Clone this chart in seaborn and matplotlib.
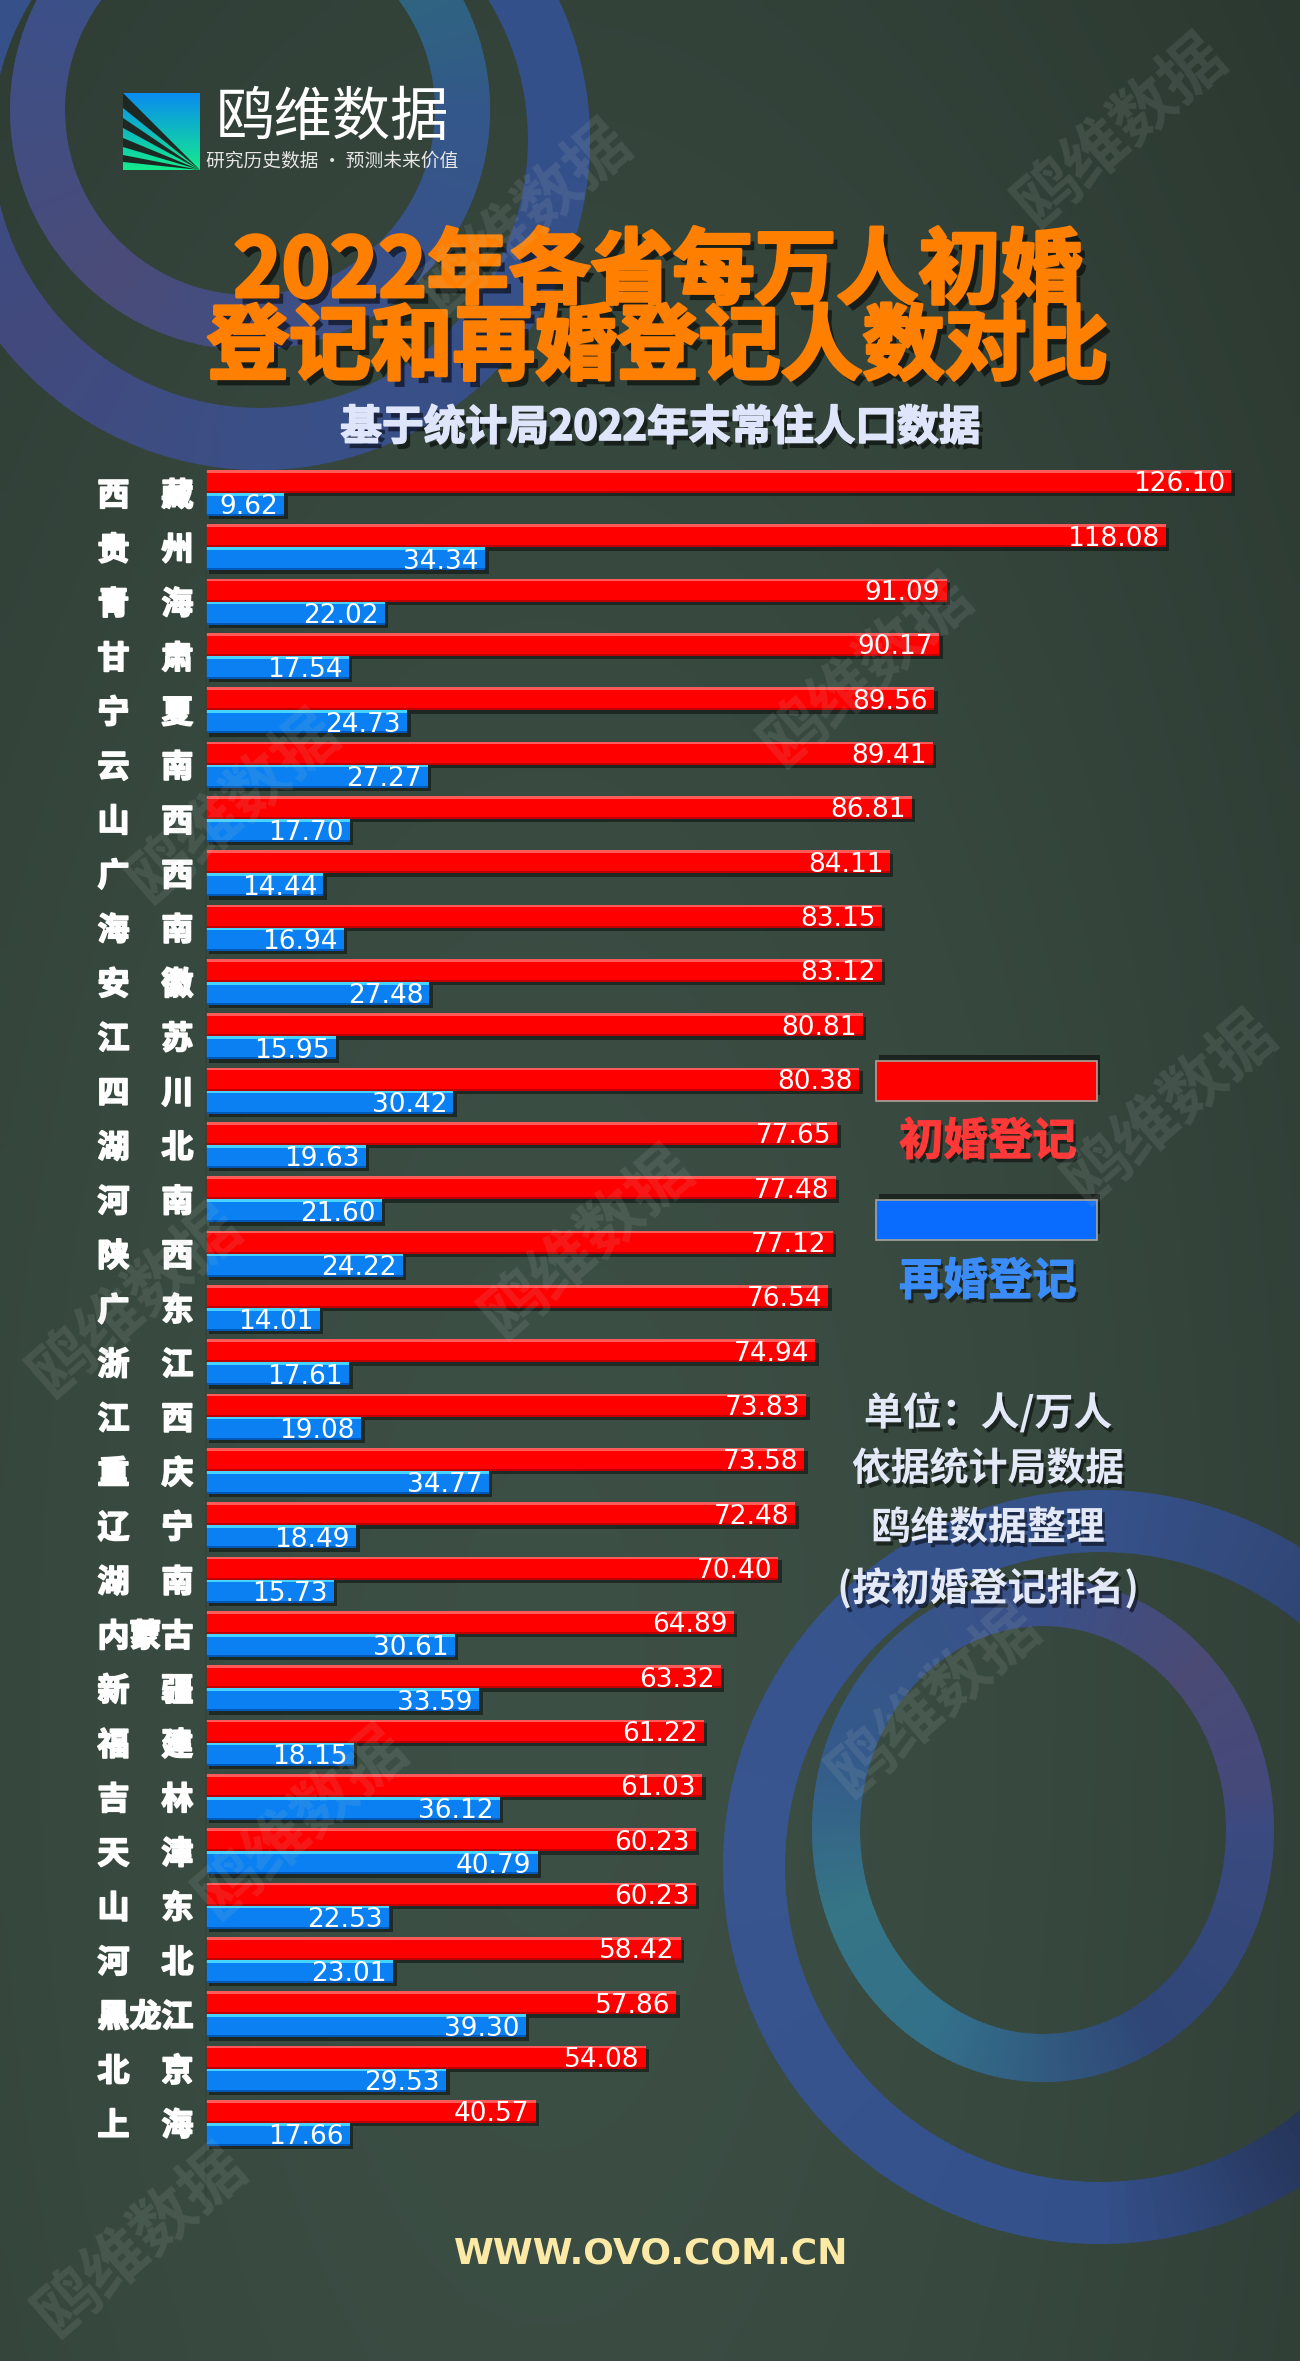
import numpy as np
import pandas as pd
import matplotlib
matplotlib.use("Agg")
import matplotlib.pyplot as plt
import seaborn as sns
from matplotlib import patheffects as pe
from matplotlib.patches import Rectangle, Polygon
from matplotlib.colors import to_rgb
from matplotlib.font_manager import FontProperties

# ---------------- data ----------------
provinces = ['西藏', '贵州', '青海', '甘肃', '宁夏', '云南', '山西', '广西', '海南', '安徽',
             '江苏', '四川', '湖北', '河南', '陕西', '广东', '浙江', '江西', '重庆', '辽宁',
             '湖南', '内蒙古', '新疆', '福建', '吉林', '天津', '山东', '河北', '黑龙江', '北京', '上海']
first_marriage = [126.10, 118.08, 91.09, 90.17, 89.56, 89.41, 86.81, 84.11, 83.15, 83.12,
                  80.81, 80.38, 77.65, 77.48, 77.12, 76.54, 74.94, 73.83, 73.58, 72.48,
                  70.40, 64.89, 63.32, 61.22, 61.03, 60.23, 60.23, 58.42, 57.86, 54.08, 40.57]
remarriage = [9.62, 34.34, 22.02, 17.54, 24.73, 27.27, 17.70, 14.44, 16.94, 27.48,
              15.95, 30.42, 19.63, 21.60, 24.22, 14.01, 17.61, 19.08, 34.77, 18.49,
              15.73, 30.61, 33.59, 18.15, 36.12, 40.79, 22.53, 23.01, 39.30, 29.53, 17.66]
series_names = ['初婚登记', '再婚登记']

title_lines = ['2022年各省每万人初婚', '登记和再婚登记人数对比']
subtitle = '基于统计局2022年末常住人口数据'
notes = ['单位：人/万人', '依据统计局数据', '鸥维数据整理', '(按初婚登记排名)']
brand = '鸥维数据'
brand_tag = '研究历史数据 · 预测未来价值'
footer = 'WWW.OVO.COM.CN'

# ---------------- style ----------------
sns.set_style('white')
plt.rcParams['font.family'] = ['Noto Sans CJK SC', 'DejaVu Sans']
plt.rcParams['axes.unicode_minus'] = False

RED, BLUE = '#ff0000', '#0a80f2'
palette = [RED, BLUE]

W, H = 1300, 2361
fig = plt.figure(figsize=(W / 100, H / 100), dpi=100)

# ---------------- background layer ----------------
ax_bg = fig.add_axes([0, 0, 1, 1], zorder=0)
ax_bg.set_axis_off()
gx = np.linspace(0, 1, 130)
gy = np.linspace(0, 1, 236)
X, Y = np.meshgrid(gx, gy)
d = np.sqrt(((X - 0.42) / 0.8) ** 2 + ((Y - 0.72) / 1.05) ** 2)
g = np.clip(1 - 0.95 * d ** 1.6, 0, 1)
dark = np.array([0.165, 0.215, 0.185])
light = np.array([0.238, 0.312, 0.272])
bg = dark + (light - dark) * g[..., None]
ax_bg.imshow(bg, extent=(0, W, H, 0), aspect='auto', interpolation='bilinear', zorder=0)


def ring(ax, cx, cy, rx, ry, w, stops, n=240, zorder=1):
    angs = np.array([s[0] for s in stops], dtype=float)
    cols = np.array([to_rgb(s[1]) for s in stops])
    ts = np.linspace(0, 360, n + 1)
    for t0, t1 in zip(ts[:-1], ts[1:]):
        tm = (t0 + t1) / 2
        c = [np.interp(tm, angs, cols[:, k], period=360) for k in range(3)]
        tt = np.radians(np.linspace(t0, t1 + 0.8, 4))
        ox = cx + rx * np.cos(tt)
        oy = cy + ry * np.sin(tt)
        ix = cx + (rx - w) * np.cos(tt[::-1])
        iy = cy + (ry - w) * np.sin(tt[::-1])
        ax.add_patch(Polygon(np.column_stack([np.r_[ox, ix], np.r_[oy, iy]]),
                             closed=True, fc=c, ec='none', zorder=zorder))


# top-left rings
ring(ax_bg, 260, 140, 330, 330, 62,
     [(0, '#34508a'), (90, '#3a4f86'), (140, '#42497c'), (200, '#36508a'), (270, '#33508a')])
ring(ax_bg, 250, 110, 240, 240, 55,
     [(0, '#33578a'), (60, '#3b5088'), (130, '#4a4b78'), (200, '#3d4f86'),
      (260, '#34528a'), (310, '#2e6a7e'), (345, '#305e84')], zorder=2)
# bottom-right rings
ring(ax_bg, 1100, 1867, 377, 377, 62,
     [(0, '#2a3a62'), (45, '#233050'), (90, '#34508a'), (180, '#385590'),
      (270, '#36528a'), (320, '#2e416e')])
ring(ax_bg, 1043, 1830, 231, 252, 48,
     [(0, '#3a4a80'), (60, '#2f4676'), (120, '#33708a'), (160, '#357585'),
      (200, '#34598a'), (270, '#3a5088'), (315, '#4a4a75'), (350, '#44497a')], zorder=2)

# logo icon
grad = np.linspace(0, 1, 64)[:, None]
ctop = np.array(to_rgb('#0a8cf0'))
cbot = np.array(to_rgb('#14eb8c'))
logo = ctop + (cbot - ctop) * grad[..., None]
ax_bg.imshow(logo, extent=(123, 200, 170, 93), aspect='auto', zorder=3)
for (y0, y1) in [(93, 108), (118, 128), (138, 147), (155, 162)]:
    ax_bg.add_patch(Polygon([(200, 170), (123, y0), (123, y1)], closed=True,
                            fc='#1d2822', ec='none', zorder=4))
ax_bg.set_xlim(0, W)
ax_bg.set_ylim(H, 0)

# ---------------- chart ----------------
T_px, B_px, L_px = 465.8, 2204.4, 206.0
px_per_unit = 8.13
xmax = 134
ax = fig.add_axes([L_px / W, 1 - B_px / H, xmax * px_per_unit / W, (B_px - T_px) / H], zorder=2)
ax.patch.set_alpha(0)

df = pd.DataFrame({
    'province': provinces * 2,
    'value': first_marriage + remarriage,
    'series': [series_names[0]] * len(provinces) + [series_names[1]] * len(provinces),
})
sns.barplot(data=df, x='value', y='province', hue='series', order=provinces,
            hue_order=series_names, palette=palette, orient='h', width=0.847,
            errorbar=None, saturation=1, legend=False, ax=ax,
            linewidth=0, edgecolor='none')

hl_cols = ['#ff5a5a', '#45d4ff']
dk_cols = ['#c00000', '#0058b8']
series_vals = [first_marriage, remarriage]
for k, cont in enumerate(ax.containers):
    for bar, val in zip(cont, series_vals[k]):
        bar.set_linewidth(0)
        bar.set_edgecolor('none')
        bar.set_path_effects([pe.SimplePatchShadow(offset=(2.5, -2.5), shadow_rgbFace='black', alpha=0.45),
                              pe.Normal()])
        bw, by, bh = bar.get_width(), bar.get_y(), bar.get_height()
        ax.add_patch(Rectangle((0, by), bw, 0.05, fc=hl_cols[k], ec='none', lw=0,
                               zorder=bar.get_zorder() + 0.1))
        ax.add_patch(Rectangle((0, by + bh - 0.035), bw, 0.035, fc=dk_cols[k], ec='none', lw=0,
                               zorder=bar.get_zorder() + 0.1))
        ax.annotate(f'{val:.2f}', xy=(bw, by + bh / 2), xytext=(-4.5, 0), textcoords='offset points',
                    ha='right', va='center_baseline', color='white', fontsize=19,
                    family='DejaVu Sans', zorder=5)

ax.set_xlim(0, xmax)
ax.set_ylim(len(provinces) + 0.5, -0.5)
fp_lab = FontProperties(family=['Noto Sans CJK SC', 'DejaVu Sans'], weight='black', size=23)
ax.set_yticks(range(len(provinces)))
ax.set_yticklabels([p if len(p) >= 3 else p[0] + '\u3000' + p[1] for p in provinces],
                   fontproperties=fp_lab)
ax.tick_params(axis='y', length=0, pad=9, labelcolor='white')
for t in ax.get_yticklabels():
    t.set_path_effects([pe.withStroke(linewidth=1.3, foreground='white')])
ax.xaxis.set_visible(False)
ax.set_ylabel('')
for s in ['top', 'right', 'bottom']:
    ax.spines[s].set_visible(False)
ax.spines['left'].set_color('#33453b')
ax.spines['left'].set_linewidth(1.2)

# ---------------- overlay texts ----------------
ax_t = fig.add_axes([0, 0, 1, 1], zorder=3)
ax_t.set_xlim(0, W)
ax_t.set_ylim(H, 0)
ax_t.set_axis_off()
ax_t.patch.set_alpha(0)


def heavy(col, lw=2.0, off=(3, -4), alpha=0.55):
    return [pe.SimplePatchShadow(offset=off, shadow_rgbFace='black', alpha=alpha),
            pe.Stroke(linewidth=lw, foreground=col), pe.Normal()]


small_shadow = [pe.withSimplePatchShadow(offset=(2, -3), shadow_rgbFace='black', alpha=0.5)]

# brand
ax_t.text(332, 119, brand, ha='center', va='center', fontsize=42, color='white', weight='light')
ax_t.text(332, 161, brand_tag, ha='center', va='center', fontsize=13.5, color='#e6e6e6')

# title
for txt, yy in zip(title_lines, [273, 349]):
    ax_t.text(658, yy, txt, ha='center', va='center', fontsize=59, color='#ff8000',
              weight='black', path_effects=heavy('#ff8000', lw=2.5, off=(4, -5)))
ax_t.text(660, 428, subtitle, ha='center', va='center', fontsize=30, color='#dfe6fb',
          weight='black', path_effects=heavy('#dfe6fb', lw=1.2))

# legend
leg_y = [(1061, 1101), (1200, 1240)]
leg_txt_y = [1142, 1282]
leg_txt_c = ['#ff3838', '#3b8cf7']
leg_fill = [RED, '#0a6cff']
for (y0, y1), ty, tc, fc, name in zip(leg_y, leg_txt_y, leg_txt_c, leg_fill, series_names):
    r = Rectangle((876, y0), 221, y1 - y0, fc=fc, ec='#a9a39a', lw=1.2)
    r.set_path_effects([pe.SimplePatchShadow(offset=(2, 4), shadow_rgbFace='black', alpha=0.5), pe.Normal()])
    ax_t.add_patch(r)
    ax_t.text(988, ty, name, ha='center', va='center', fontsize=32, color=tc, weight='bold',
              path_effects=heavy(tc, lw=0.8, off=(2, -3), alpha=0.5))

# notes
for txt, yy in zip(notes, [1413, 1469, 1528, 1588]):
    ax_t.text(988, yy, txt, ha='center', va='center', fontsize=28, color='#e4e9f8',
              weight='bold', path_effects=small_shadow)

# footer
ax_t.text(651, 2254, footer, ha='center', va='center', fontsize=26, color='#fce9a6',
          weight='bold', family='DejaVu Sans')

# watermarks (kept inside the canvas)
wm_pos = [(1120, 130), (525, 216), (866, 670), (233, 806), (1170, 1107), (587, 1242),
          (135, 1300), (934, 1700), (301, 1822), (140, 2240)]
for (wx, wy) in wm_pos:
    ax_t.text(wx, wy, brand, ha='center', va='center', fontsize=46, rotation=41,
              rotation_mode='anchor', color='#b8c2bc', alpha=0.13, weight='bold')

fig.savefig('out.png', dpi=100)
